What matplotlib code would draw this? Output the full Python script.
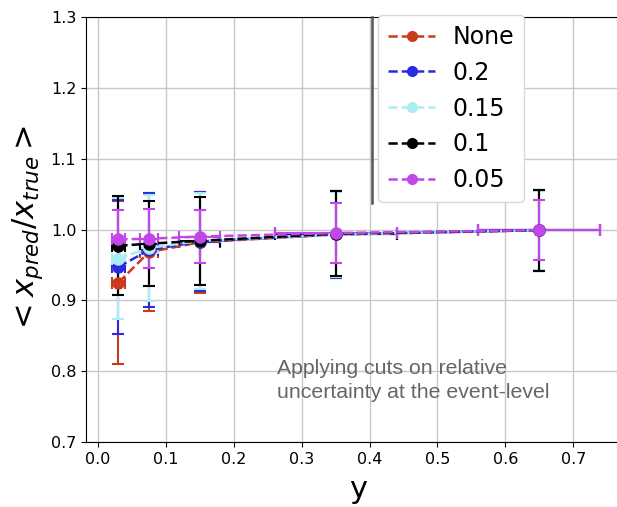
import matplotlib
matplotlib.use("Agg")
import matplotlib.pyplot as plt
from matplotlib.lines import Line2D

# ---- data ----
x_vals = [0.03, 0.075, 0.15, 0.35, 0.65]
x_errs = [0.01, 0.013, 0.03, 0.09, 0.09]

labels = ["None", "0.2", "0.15", "0.1", "0.05"]
y_none = [0.925, 0.968, 0.982, 0.993, 0.999]
e_none = [0.115, 0.083, 0.071, 0.062, 0.057]
y_02 = [0.947, 0.971, 0.983, 0.993, 0.999]
e_02 = [0.095, 0.080, 0.070, 0.061, 0.057]
y_015 = [0.959, 0.974, 0.984, 0.993, 0.999]
e_015 = [0.085, 0.075, 0.068, 0.060, 0.056]
y_01 = [0.977, 0.980, 0.984, 0.994, 0.999]
e_01 = [0.070, 0.060, 0.062, 0.060, 0.057]
y_005 = [0.986, 0.987, 0.990, 0.995, 0.999]
e_005 = [0.042, 0.042, 0.037, 0.042, 0.042]

colors = ["#c93b1f", "#2a2ae0", "#a9eef2", "#000000", "#c247ea"]
series = [(y_none, e_none), (y_02, e_02), (y_015, e_015), (y_01, e_01), (y_005, e_005)]

fig = plt.figure(figsize=(6.17, 5.07), dpi=100)
ax = fig.add_axes([86/617, 65/507, 545/617, 425/507])

handles = []
for (yv, ev), c, lab in zip(series, colors, labels):
    ax.errorbar(x_vals, yv, yerr=ev, xerr=x_errs, fmt='o--', color=c, ecolor=c,
                markersize=8, linewidth=1.8, elinewidth=1.5, capsize=4.5, capthick=1.5)
    handles.append(Line2D([], [], color=c, linestyle='--', marker='o',
                          markersize=7, linewidth=1.8, label=lab))

ax.set_xlim(-0.0177, 0.785)
ax.set_ylim(0.7, 1.3)
ax.set_xticks([0.0, 0.1, 0.2, 0.3, 0.4, 0.5, 0.6, 0.7])
ax.set_yticks([0.7, 0.8, 0.9, 1.0, 1.1, 1.2, 1.3])
ax.grid(True, color="#c8c8c8", linewidth=1)
ax.set_axisbelow(True)
ax.tick_params(labelsize=11.5)
ax.spines['right'].set_visible(False)

ax.set_xlabel("y", fontsize=22, labelpad=6)
ax.set_ylabel(r"$< x_{pred}/x_{true} >$", fontsize=22, labelpad=4)

ax.text(0.264, 0.787, "Applying cuts on relative\nuncertainty at the event-level",
        fontsize=15.3, color="#666666", family="Liberation Sans",
        ha="left", va="center", linespacing=1.35)

# vertical divider line next to legend
fig.add_artist(Line2D([372/617, 372/617], [1-17/507, 1-203/507], color="#555555",
                      linewidth=1.8, transform=fig.transFigure))

leg = ax.legend(handles=handles, loc="upper left", bbox_to_anchor=(378/617, 1-15/507),
                bbox_transform=fig.transFigure, fontsize=17,
                handlelength=2.0, labelspacing=0.5, borderpad=0.42, borderaxespad=0,
                handletextpad=0.75, framealpha=1.0, edgecolor="#d8d8d8")
leg.set_zorder(10)

fig.savefig("out.png", dpi=100)
